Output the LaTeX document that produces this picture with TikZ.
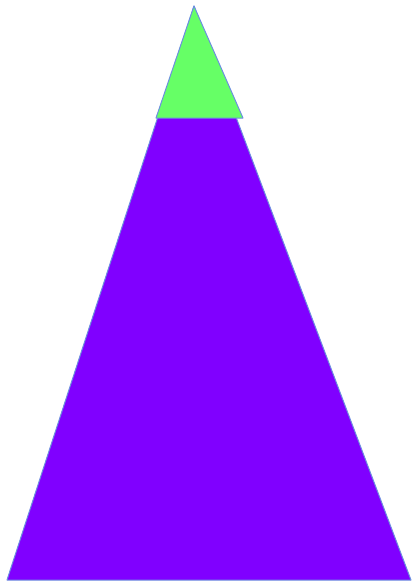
\documentclass[tikz,border=0pt]{standalone}
\definecolor{purp}{HTML}{8000FF}
\definecolor{grn}{HTML}{66FF66}
\definecolor{edge}{HTML}{6C8EE0}
\begin{document}
\begin{tikzpicture}[x=1pt,y=-1pt,
  tri/.style={draw=edge,line width=1pt,line join=round}]
\useasboundingbox (0,0) rectangle (414,584);
\coordinate (apex) at (194,6);
\coordinate (bl) at (7,580);
\coordinate (br) at (411,580);
\coordinate (gl) at (156,118);
\coordinate (gr) at (243,118);
\filldraw[tri,fill=purp] (apex) -- (br) -- (bl) -- cycle;
\filldraw[tri,fill=grn] (apex) -- (gr) -- (gl) -- cycle;
\end{tikzpicture}
\end{document}
